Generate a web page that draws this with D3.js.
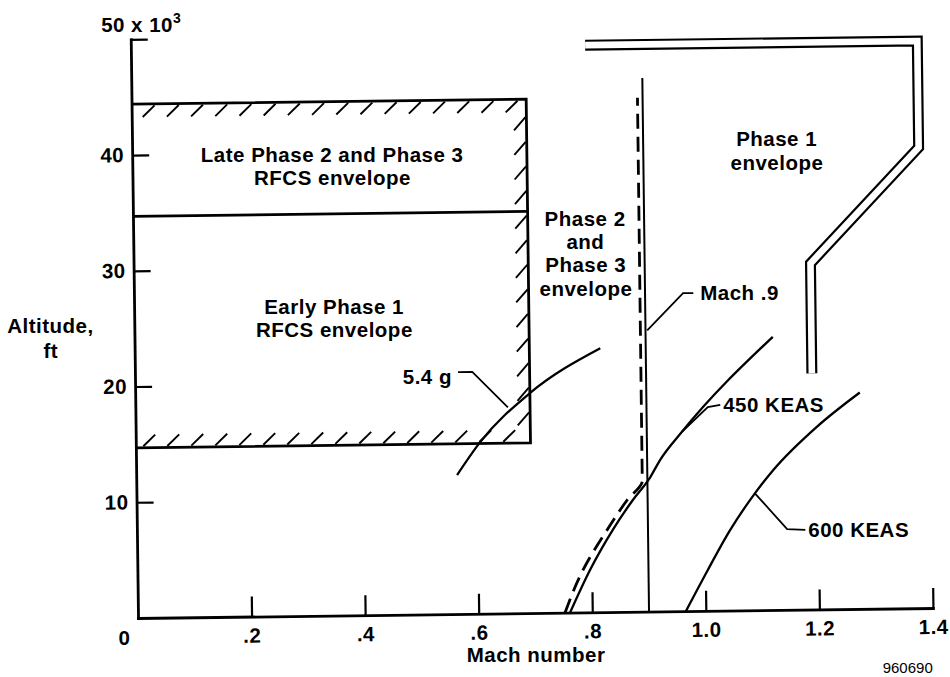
<!DOCTYPE html>
<html><head><meta charset="utf-8">
<script src="https://cdn.jsdelivr.net/npm/d3@7"></script>
<style>
body{margin:0;background:#fff}
text{font-family:"Liberation Sans",Arial,Helvetica,sans-serif;font-weight:bold;fill:#000}
.lbl{font-size:20.5px;letter-spacing:0.5px}
</style>
</head><body>
<svg id="c" width="950" height="677"></svg>
<script>
// ---------- data ----------
const xTicks = [0.2, 0.4, 0.6, 0.8, 1.0, 1.2, 1.4];
const yTicks = [10, 20, 30, 40, 50];

const boxMach = [0, 0.695];                 // RFCS envelope, Mach limits
const boxAlt = [14.7, 34.7, 44.4];          // bottom, early/late split, top (x10^3 ft)

const g54Mach = [0.565, 0.606, 0.695, 0.820];
const g54Alt  = [12.0, 14.8, 19.0, 22.8];

const keas450Mach = [0.761, 0.797, 0.838, 0.874, 0.905, 0.923, 0.962, 1.124];
const keas450Alt  = [0, 3.65, 7.1, 9.66, 11.6, 13.1, 15.5, 23.6];

const keas600Mach = [0.965, 1.003, 1.044, 1.089, 1.122, 1.200, 1.276];
const keas600Alt  = [0, 3.4, 6.9, 10.1, 12.1, 15.8, 18.7];

const phase23Mach = [0.752, 0.785, 0.828, 0.864, 0.891, 0.891];
const phase23Alt  = [0, 3.7, 7.1, 9.66, 11.3, 44.4];

const mach09Mach = [0.9, 0.9];
const mach09Alt  = [0, 46.1];

const phase1Mach = [0.80, 1.385, 1.385, 1.192, 1.192];
const phase1Alt  = [49.0, 49.0, 39.8, 29.9, 20.4];

// ---------- scales ----------
const x = d3.scaleLinear().domain([0, 1.4]).range([138, 933]);
const y = d3.scaleLinear().domain([0, 50]).range([618, 39.25]);
const pts = (ms, as) => ms.map((m, i) => [m, as[i]]);
const straight = d3.line().x(d => x(d[0])).y(d => y(d[1]));
const smoothX = d3.line().x(d => x(d[0])).y(d => y(d[1])).curve(d3.curveMonotoneX);
const smoothY = d3.line().x(d => x(d[0])).y(d => y(d[1])).curve(d3.curveMonotoneY);

// the scanned original is tilted slightly
const ANG = -0.72, CX = 138, CY = 618;
const rot = (px, py) => {
  const a = ANG * Math.PI / 180, dx = px - CX, dy = py - CY;
  return [CX + dx * Math.cos(a) - dy * Math.sin(a), CY + dx * Math.sin(a) + dy * Math.cos(a)];
};
const svg = d3.select("#c");
const g = svg.append("g").attr("transform", `rotate(${ANG} ${CX} ${CY})`);
const lab = svg.append("g");   // upright text placed at tilted positions
const putText = (px, py, s, anchor, cls) => {
  const [rx, ry] = rot(px, py);
  return lab.append("text").attr("class", cls || "lbl").attr("text-anchor", anchor || "start")
    .attr("x", rx).attr("y", ry).text(s);
};

// ---------- axes ----------
const fmtX = d => { const s = d3.format(".1f")(d); return d < 1 ? s.replace(/^0/, "") : s; };
const xAxis = g.append("g").attr("transform", `translate(0,${y(0)})`)
  .call(d3.axisBottom(x).tickValues(xTicks).tickFormat(fmtX).tickSizeInner(-20).tickSizeOuter(0).tickPadding(11.5));
const yAxis = g.append("g").attr("transform", `translate(${x(0)},0)`)
  .call(d3.axisLeft(y).tickValues(yTicks).tickFormat(d => d === 50 ? "" : d).tickSizeInner(-17).tickSizeOuter(0).tickPadding(8));
[xAxis, yAxis].forEach(a => {
  a.attr("font-family", null).attr("font-size", null);
  a.select(".domain").attr("stroke", "#000").attr("stroke-width", 2.8).attr("stroke-linecap", "square");
  a.selectAll(".tick line").attr("stroke", "#000").attr("stroke-width", 2.2);
  a.selectAll(".tick text").attr("fill", "#000").attr("class", "lbl");
});
putText(x(0) - 14, 645, "0", "middle");
const top50 = putText(108.5, 31.2, "", "start");
top50.append("tspan").text("50 x 10");
top50.append("tspan").attr("dy", -9).style("font-size", "14px").text("3");

putText(54, 332, "Altitude,", "middle");
putText(54, 357, "ft", "middle");
putText((x(0) + x(1.4)) / 2, 667, "Mach number", "middle");
putText(932, 682.5, "960690", "end", "note").style("font-size", "15px").style("font-weight", "normal");

// ---------- RFCS box ----------
const xL = x(boxMach[0]), xR = x(boxMach[1]);
const yB = y(boxAlt[0]), yT = y(boxAlt[2]);
const boxG = g.append("g").attr("stroke", "#000").attr("fill", "none");
boxG.append("path").attr("stroke-width", 2.8).attr("stroke-linejoin", "miter")
  .attr("d", straight(pts([boxMach[0], boxMach[1], boxMach[1], boxMach[0]], [boxAlt[2], boxAlt[2], boxAlt[0], boxAlt[0]])));
boxG.append("path").attr("stroke-width", 2.6)
  .attr("d", straight(pts([boxMach[0], boxMach[1]], [boxAlt[1], boxAlt[1]])));
// hatching along the inside of the limits
const hatches = [];
for (let hx = xL + 11; hx + 12 <= xR - 2; hx += 24.2) hatches.push([hx, yT + 13, hx + 12, yT + 1.5]);
for (let hy = yT + 18; hy + 13 <= yB - 2; hy += 24.6) hatches.push([xR - 12.5, hy + 13, xR - 1, hy]);
for (let hx = xL + 7.5; hx + 12 <= xR - 2; hx += 24) hatches.push([hx, yB - 1.5, hx + 12, yB - 13]);
boxG.selectAll("line.h").data(hatches).join("line").attr("class", "h")
  .attr("x1", d => d[0]).attr("y1", d => d[1]).attr("x2", d => d[2]).attr("y2", d => d[3])
  .attr("stroke-width", 1.9);

// ---------- curves ----------
const curves = g.append("g").attr("fill", "none").attr("stroke", "#000");
curves.append("path").attr("stroke-width", 2.3).attr("d", smoothX(pts(g54Mach, g54Alt)));
curves.append("path").attr("stroke-width", 2.3).attr("d", smoothX(pts(keas450Mach, keas450Alt)));
curves.append("path").attr("stroke-width", 2.3).attr("d", smoothX(pts(keas600Mach, keas600Alt)));
curves.append("path").attr("stroke-width", 2.0).attr("d", straight(pts(mach09Mach, mach09Alt)));
curves.append("path").attr("stroke-width", 2.8).attr("stroke-dasharray", "15,8")
  .attr("d", smoothY(pts(phase23Mach, phase23Alt)));
// Phase 1 envelope: double line
const p1 = straight(pts(phase1Mach, phase1Alt));
curves.append("path").attr("stroke-width", 11).attr("stroke-linejoin", "miter").attr("d", p1);
curves.append("path").attr("stroke-width", 6.6).attr("stroke", "#fff").attr("stroke-linejoin", "miter").attr("d", p1);

// ---------- labels & leaders ----------
const blocks = [
  {lines: ["Late Phase 2 and Phase 3", "RFCS envelope"], m: 0.352, a: 39.17, lh: 23.2, anchor: "middle"},
  {lines: ["Early Phase 1", "RFCS envelope"], m: 0.352, a: 26.04, lh: 23.2, anchor: "middle"},
  {lines: ["Phase 2", "and", "Phase 3", "envelope"], m: 0.796, a: 33.42, lh: 23.4, anchor: "middle"},
  {lines: ["Phase 1", "envelope"], m: 1.135, a: 40.06, lh: 23.7, anchor: "middle"},
  {lines: ["5.4 g"], m: 0.558, a: 19.84, lh: 0, anchor: "end"},
  {lines: ["Mach .9"], m: 0.997, a: 26.84, lh: 0, anchor: "start"},
  {lines: ["450 KEAS"], m: 1.035, a: 17.13, lh: 0, anchor: "start"},
  {lines: ["600 KEAS"], m: 1.182, a: 6.25, lh: 0, anchor: "start"}
];
blocks.forEach(b => {
  b.lines.forEach((s, i) => putText(x(b.m), y(b.a) + i * b.lh, s, b.anchor));
});
const leaders = [
  [[0.569, 20.9], [0.594, 20.9], [0.656, 17.8]],
  [[0.985, 27.47], [0.967, 27.48], [0.903, 24.3]],
  [[1.030, 17.77], [1.008, 17.6], [0.962, 15.5]],
  [[1.177, 6.88], [1.145, 6.98], [1.089, 10.1]]
];
g.append("g").attr("fill", "none").attr("stroke", "#000").attr("stroke-width", 1.8)
  .selectAll("path").data(leaders).join("path").attr("d", d => straight(d));
</script>
</body></html>
